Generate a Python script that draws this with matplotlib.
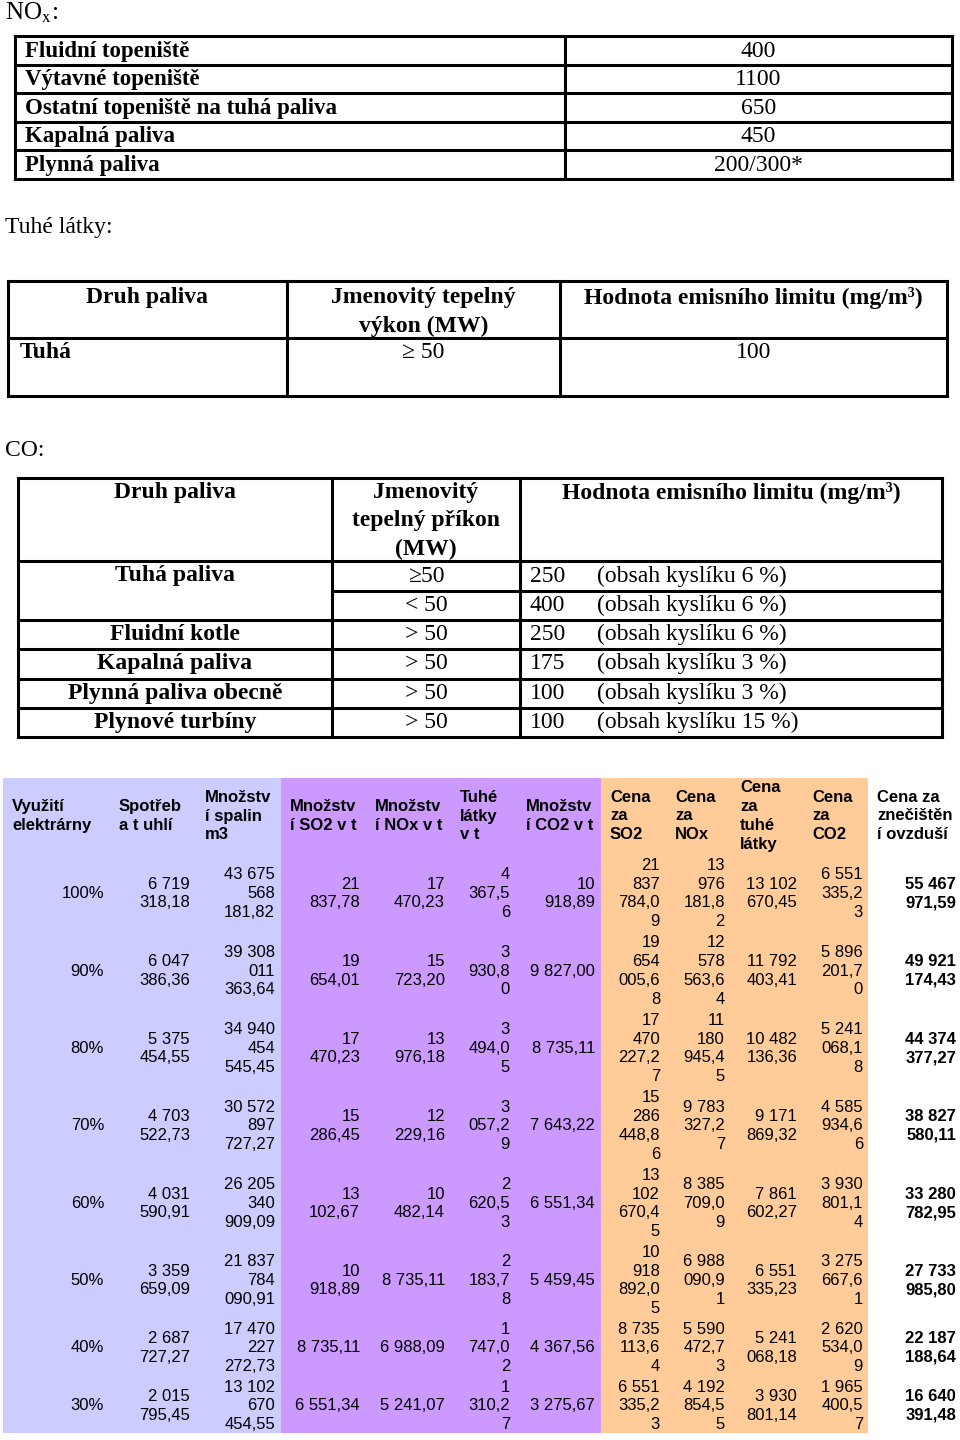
import matplotlib
matplotlib.use("Agg")
import matplotlib.pyplot as plt
from matplotlib.patches import Rectangle

plt.rcParams['mathtext.fontset'] = 'stix'

SERIF = ['Liberation Serif', 'DejaVu Serif']
SANS = ['Liberation Sans', 'DejaVu Sans']

# ---------------- data ----------------
nox_fuels = ["Fluidní topeniště", "Výtavné topeniště", "Ostatní topeniště na tuhá paliva",
             "Kapalná paliva", "Plynná paliva"]
nox_limits = ["400", "1100", "650", "450", "200/300*"]

dust_headers = ["Druh paliva", "Jmenovitý tepelný\nvýkon (MW)", "Hodnota emisního limitu (mg/m³)"]
dust_fuel = "Tuhá"
dust_power = "≥ 50"
dust_limit = "100"

co_headers = ["Druh paliva", "Jmenovitý\ntepelný příkon\n(MW)", "Hodnota emisního limitu (mg/m³)"]
co_fuels = ["Tuhá paliva", "Fluidní kotle", "Kapalná paliva", "Plynná paliva obecně", "Plynové turbíny"]
co_fuel_rows = [2, 1, 1, 1, 1]
co_power = ["≥50", "< 50", "> 50", "> 50", "> 50", "> 50"]
co_limit = ["250", "400", "250", "175", "100", "100"]
co_oxygen = ["6", "6", "6", "3", "3", "15"]

col_headers = ["Využití\nelektrárny", "Spotřeb\na t uhlí", "Množstv\ní spalin\nm3",
               "Množstv\ní SO2 v t", "Množstv\ní NOx v t", "Tuhé\nlátky\nv t",
               "Množstv\ní CO2 v t", "Cena\nza\nSO2", "Cena\nza\nNOx",
               "Cena\nza\ntuhé\nlátky", "Cena\nza\nCO2", "Cena za\nznečištěn\ní ovzduší"]
utilization = ["100%", "90%", "80%", "70%", "60%", "50%", "40%", "30%"]
coal = ["6 719 318,18", "6 047 386,36", "5 375 454,55", "4 703 522,73",
        "4 031 590,91", "3 359 659,09", "2 687 727,27", "2 015 795,45"]
flue_gas = ["43 675 568 181,82", "39 308 011 363,64", "34 940 454 545,45", "30 572 897 727,27",
            "26 205 340 909,09", "21 837 784 090,91", "17 470 227 272,73", "13 102 670 454,55"]
so2 = ["21 837,78", "19 654,01", "17 470,23", "15 286,45", "13 102,67", "10 918,89", "8 735,11", "6 551,34"]
nox = ["17 470,23", "15 723,20", "13 976,18", "12 229,16", "10 482,14", "8 735,11", "6 988,09", "5 241,07"]
dust = ["4 367,56", "3 930,80", "3 494,05", "3 057,29", "2 620,53", "2 183,78", "1 747,02", "1 310,27"]
co2 = ["10 918,89", "9 827,00", "8 735,11", "7 643,22", "6 551,34", "5 459,45", "4 367,56", "3 275,67"]
cost_so2 = ["21 837 784,09", "19 654 005,68", "17 470 227,27", "15 286 448,86",
            "13 102 670,45", "10 918 892,05", "8 735 113,64", "6 551 335,23"]
cost_nox = ["13 976 181,82", "12 578 563,64", "11 180 945,45", "9 783 327,27",
            "8 385 709,09", "6 988 090,91", "5 590 472,73", "4 192 854,55"]
cost_dust = ["13 102 670,45", "11 792 403,41", "10 482 136,36", "9 171 869,32",
             "7 861 602,27", "6 551 335,23", "5 241 068,18", "3 930 801,14"]
cost_co2 = ["6 551 335,23", "5 896 201,70", "5 241 068,18", "4 585 934,66",
            "3 930 801,14", "3 275 667,61", "2 620 534,09", "1 965 400,57"]
cost_total = ["55 467 971,59", "49 921 174,43", "44 374 377,27", "38 827 580,11",
              "33 280 782,95", "27 733 985,80", "22 187 188,64", "16 640 391,48"]

# ---------------- helpers ----------------
def wrap(s, width):
    lines = []
    cur = ""
    for w in s.split(" "):
        cand = w if cur == "" else cur + " " + w
        if len(cand) <= width:
            cur = cand
            continue
        if cur:
            lines.append(cur)
            cur = ""
        while len(w) > width:
            lines.append(w[:width])
            w = w[width:]
        cur = w
    if cur:
        lines.append(cur)
    return "\n".join(lines)

fig = plt.figure(figsize=(9.6, 14.4), dpi=100)
ax = fig.add_axes([0, 0, 1, 1])
ax.set_xlim(0, 960)
ax.set_ylim(1440, 0)
ax.axis('off')

LW = 2.2

def hline(x0, x1, y, lw=LW):
    ax.plot([x0, x1], [y, y], color='black', lw=lw, solid_capstyle='projecting')

def vline(x, y0, y1, lw=LW):
    ax.plot([x, x], [y0, y1], color='black', lw=lw, solid_capstyle='projecting')

TS = 17  # serif size
TLS = 1.46  # serif header line spacing

# ---------------- NOx table ----------------
ax.text(5, 13, r"NO$_{\mathrm{x}}$:", family=SERIF, fontsize=TS + 1, va='center', ha='left')
t1_x0, t1_x1, t1_xd = 15, 952, 565
t1_rows = [36, 64.5, 93, 121.5, 150, 179]
for y in t1_rows:
    hline(t1_x0, t1_x1, y)
for x in (t1_x0, t1_xd, t1_x1):
    vline(x, t1_rows[0], t1_rows[-1])
for i, (f, v) in enumerate(zip(nox_fuels, nox_limits)):
    yc = (t1_rows[i] + t1_rows[i + 1]) / 2 + 1
    ax.text(25, yc, f, family=SERIF, fontsize=TS - 0.5, weight='bold', va='center', ha='left')
    ax.text((t1_xd + t1_x1) / 2, yc, v, family=SERIF, fontsize=TS, va='center', ha='center')

# ---------------- Dust table ----------------
ax.text(5, 227, "Tuhé látky:", family=SERIF, fontsize=TS, va='center', ha='left')
t2_x = [8, 287, 560, 947]
t2_y = [281, 338, 396]
for y in t2_y:
    hline(t2_x[0], t2_x[-1], y)
for x in t2_x:
    vline(x, t2_y[0], t2_y[-1])
for i, h in enumerate(dust_headers):
    xc = (t2_x[i] + t2_x[i + 1]) / 2
    ax.text(xc, 287, h, family=SERIF, fontsize=TS, weight='bold', va='top', ha='center',
            linespacing=TLS)
ax.text(20, 352, dust_fuel, family=SERIF, fontsize=TS, weight='bold', va='center', ha='left')
ax.text((t2_x[1] + t2_x[2]) / 2, 352, dust_power, family=SERIF, fontsize=TS, va='center', ha='center')
ax.text((t2_x[2] + t2_x[3]) / 2, 352, dust_limit, family=SERIF, fontsize=TS, va='center', ha='center')

# ---------------- CO table ----------------
ax.text(5, 450, "CO:", family=SERIF, fontsize=TS, va='center', ha='left')
t3_x = [18, 332, 520, 942]
t3_top = 478
t3_rows = [561, 591, 620, 649, 678.5, 708, 737]
hline(t3_x[0], t3_x[-1], t3_top)
hline(t3_x[0], t3_x[-1], t3_rows[0])
hline(t3_x[1], t3_x[-1], t3_rows[1])
for y in t3_rows[2:]:
    hline(t3_x[0], t3_x[-1], y)
for x in t3_x:
    vline(x, t3_top, t3_rows[-1])
for i, h in enumerate(co_headers):
    xc = (t3_x[i] + t3_x[i + 1]) / 2
    ax.text(xc, 482, h, family=SERIF, fontsize=TS, weight='bold', va='top', ha='center',
            linespacing=TLS)
r = 0
for f, n in zip(co_fuels, co_fuel_rows):
    yc = (t3_rows[r] + t3_rows[r + 1]) / 2
    ax.text((t3_x[0] + t3_x[1]) / 2, yc, f, family=SERIF, fontsize=TS, weight='bold',
            va='center', ha='center')
    r += n
for i in range(len(co_power)):
    yc = (t3_rows[i] + t3_rows[i + 1]) / 2
    ax.text((t3_x[1] + t3_x[2]) / 2, yc, co_power[i], family=SERIF, fontsize=TS, va='center', ha='center')
    ax.text(530, yc, co_limit[i], family=SERIF, fontsize=TS, va='center', ha='left')
    ax.text(597, yc, f"(obsah kyslíku {co_oxygen[i]} %)", family=SERIF, fontsize=TS,
            va='center', ha='left')

# ---------------- Big coloured table ----------------
top, bottom = 778, 1433
ax.add_patch(Rectangle((3, top), 281 - 3, bottom - top, color='#CCCCFF', lw=0))
ax.add_patch(Rectangle((281, top), 601 - 281, bottom - top, color='#CC99FF', lw=0))
ax.add_patch(Rectangle((601, top), 868 - 601, bottom - top, color='#FFCC99', lw=0))

SS = 12.0
SLS = 1.33
head_x = [12, 119, 205, 290, 375, 460, 526, 610, 675, 740, 812, 877]
for x, h in zip(head_x, col_headers):
    ax.text(x, 816, h, family=SANS, fontsize=SS, weight='bold', va='center', ha='left',
            multialignment='left', linespacing=SLS)

columns = [utilization, coal, flue_gas, so2, nox, dust, co2,
           cost_so2, cost_nox, cost_dust, cost_co2, cost_total]
wrap_w = [8, 6, 6, 8, 8, 5, 8, 5, 5, 6, 5, 6]
right_x = [104, 190, 275, 360, 445, 510, 595, 660, 725, 797, 863, 956]
row_edges = [855, 932, 1010, 1087, 1165, 1242, 1319, 1377, 1435]
for c, (vals, w, rx) in enumerate(zip(columns, wrap_w, right_x)):
    for i, v in enumerate(vals):
        yc = (row_edges[i] + row_edges[i + 1]) / 2
        ax.text(rx, yc, wrap(v, w), family=SANS, fontsize=SS,
                weight='bold' if c == len(columns) - 1 else 'normal',
                va='center', ha='right', multialignment='right', linespacing=SLS)

fig.savefig("out.png", dpi=100)
